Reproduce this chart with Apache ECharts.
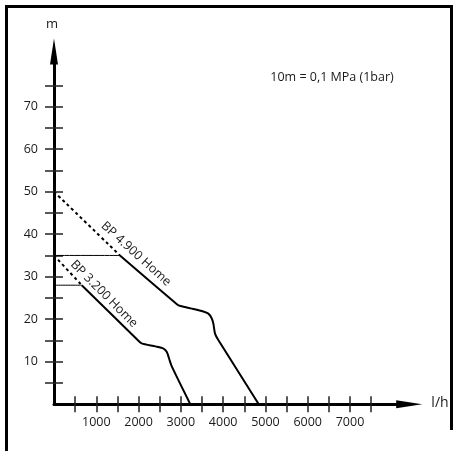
<!DOCTYPE html>
<html>
<head>
<meta charset="utf-8">
<script src="https://cdn.jsdelivr.net/npm/echarts@6/dist/echarts.min.js"></script>
<style>html,body{margin:0;padding:0;background:#fff}#c{width:454px;height:451px}</style>
</head>
<body>
<div id="c"></div>
<script>
const xTicks = [500,1000,1500,2000,2500,3000,3500,4000,4500,5000,5500,6000,6500,7000,7500];
const xLabels = [1000,2000,3000,4000,5000,6000,7000];
const yTicks = [5,10,15,20,25,30,35,40,45,50,55,60,65,70,75];
const yLabels = [10,20,30,40,50,60,70];

const bp4900Dashed = [[0,50],[1560,35]];
const bp4900Solid = [[1560,35],[2900,23.6],[2990,23.1],[3300,22.4],[3531,21.8],[3650,21.3],[3720,20.4],[3768,19.0],[3808,16.6],[3886,15.1],[4842,0]];
const bp4900Ref = [[0,35],[1560,35]];
const bp3200Dashed = [[0,35],[656,28]];
const bp3200Solid = [[656,28],[1990,15],[2074,14.3],[2400,13.6],[2590,13.1],[2668,12.3],[2720,10.8],[2780,9],[3223,0]];
const bp3200Ref = [[0,28],[656,28]];

const chart = echarts.init(document.getElementById('c'));
const font = '"Open Sans", sans-serif';
const ink = '#1a1a1a';

function xAx(inside, showLabel){
  return {
    type:'value', min:0, max:8400, position:'bottom',
    axisLine:{show:!inside, lineStyle:{color:'#000', width:3}, symbol:['none','triangle'], symbolSize:[8,26]},
    axisTick:{show:true, inside:inside, length:8, customValues:xTicks, lineStyle:{color:'#222', width:1.5}},
    axisLabel:{show:showLabel, customValues:xLabels, margin:12, color:ink, fontFamily:font, fontSize:12.5, formatter:v=>String(v)},
    splitLine:{show:false}
  };
}
function yAx(inside, showLabel){
  return {
    type:'value', min:0, max:83, position:'left',
    axisLine:{show:!inside, lineStyle:{color:'#000', width:3}, symbol:['none','triangle'], symbolSize:[8,26]},
    axisTick:{show:true, inside:inside, length:9, customValues:yTicks, lineStyle:{color:'#222', width:1.5}},
    axisLabel:{show:showLabel, customValues:yLabels, margin:16, color:ink, fontFamily:font, fontSize:12.5, formatter:v=>String(v)},
    splitLine:{show:false}
  };
}
function ln(data, style){
  return {type:'line', data:data, symbol:'none', silent:true, animation:false, smooth:0.25, lineStyle:Object.assign({color:'#000'}, style), z:3};
}

chart.setOption({
  animation:false,
  grid:{left:54, top:51.45, width:355.2, height:352.75},
  xAxis:[xAx(false,true), xAx(true,false)],
  yAxis:[yAx(false,true), yAx(true,false)],
  series:[
    ln(bp4900Dashed,{width:2, type:[3,3]}),
    ln(bp4900Solid,{width:2}),
    ln(bp4900Ref,{width:1}),
    ln(bp3200Dashed,{width:2, type:[3,3]}),
    ln(bp3200Solid,{width:2}),
    ln(bp3200Ref,{width:1})
  ],
  graphic:[
    {type:'polyline', shape:{points:[[6.5,451],[6.5,6.5],[451.5,6.5],[451.5,430]]}, style:{fill:null, stroke:'#000', lineWidth:3}, silent:true},
    {type:'text', x:52, y:24, style:{text:'m', fontFamily:font, fontSize:13, fill:ink, align:'center', verticalAlign:'middle'}},
    {type:'text', x:440, y:403, style:{text:'l/h', fontFamily:font, fontSize:14, fill:ink, align:'center', verticalAlign:'middle'}},
    {type:'text', x:332, y:77, style:{text:'10m = 0,1 MPa (1bar)', fontFamily:font, fontSize:12.5, fill:ink, align:'center', verticalAlign:'middle'}},
    {type:'text', x:136, y:254, rotation:-42*Math.PI/180, style:{text:'BP 4.900 Home', fontFamily:font, fontSize:12.5, fill:ink, align:'center', verticalAlign:'middle'}},
    {type:'text', x:104, y:294, rotation:-45*Math.PI/180, style:{text:'BP 3.200 Home', fontFamily:font, fontSize:12.5, fill:ink, align:'center', verticalAlign:'middle'}}
  ]
});
</script>
</body>
</html>
